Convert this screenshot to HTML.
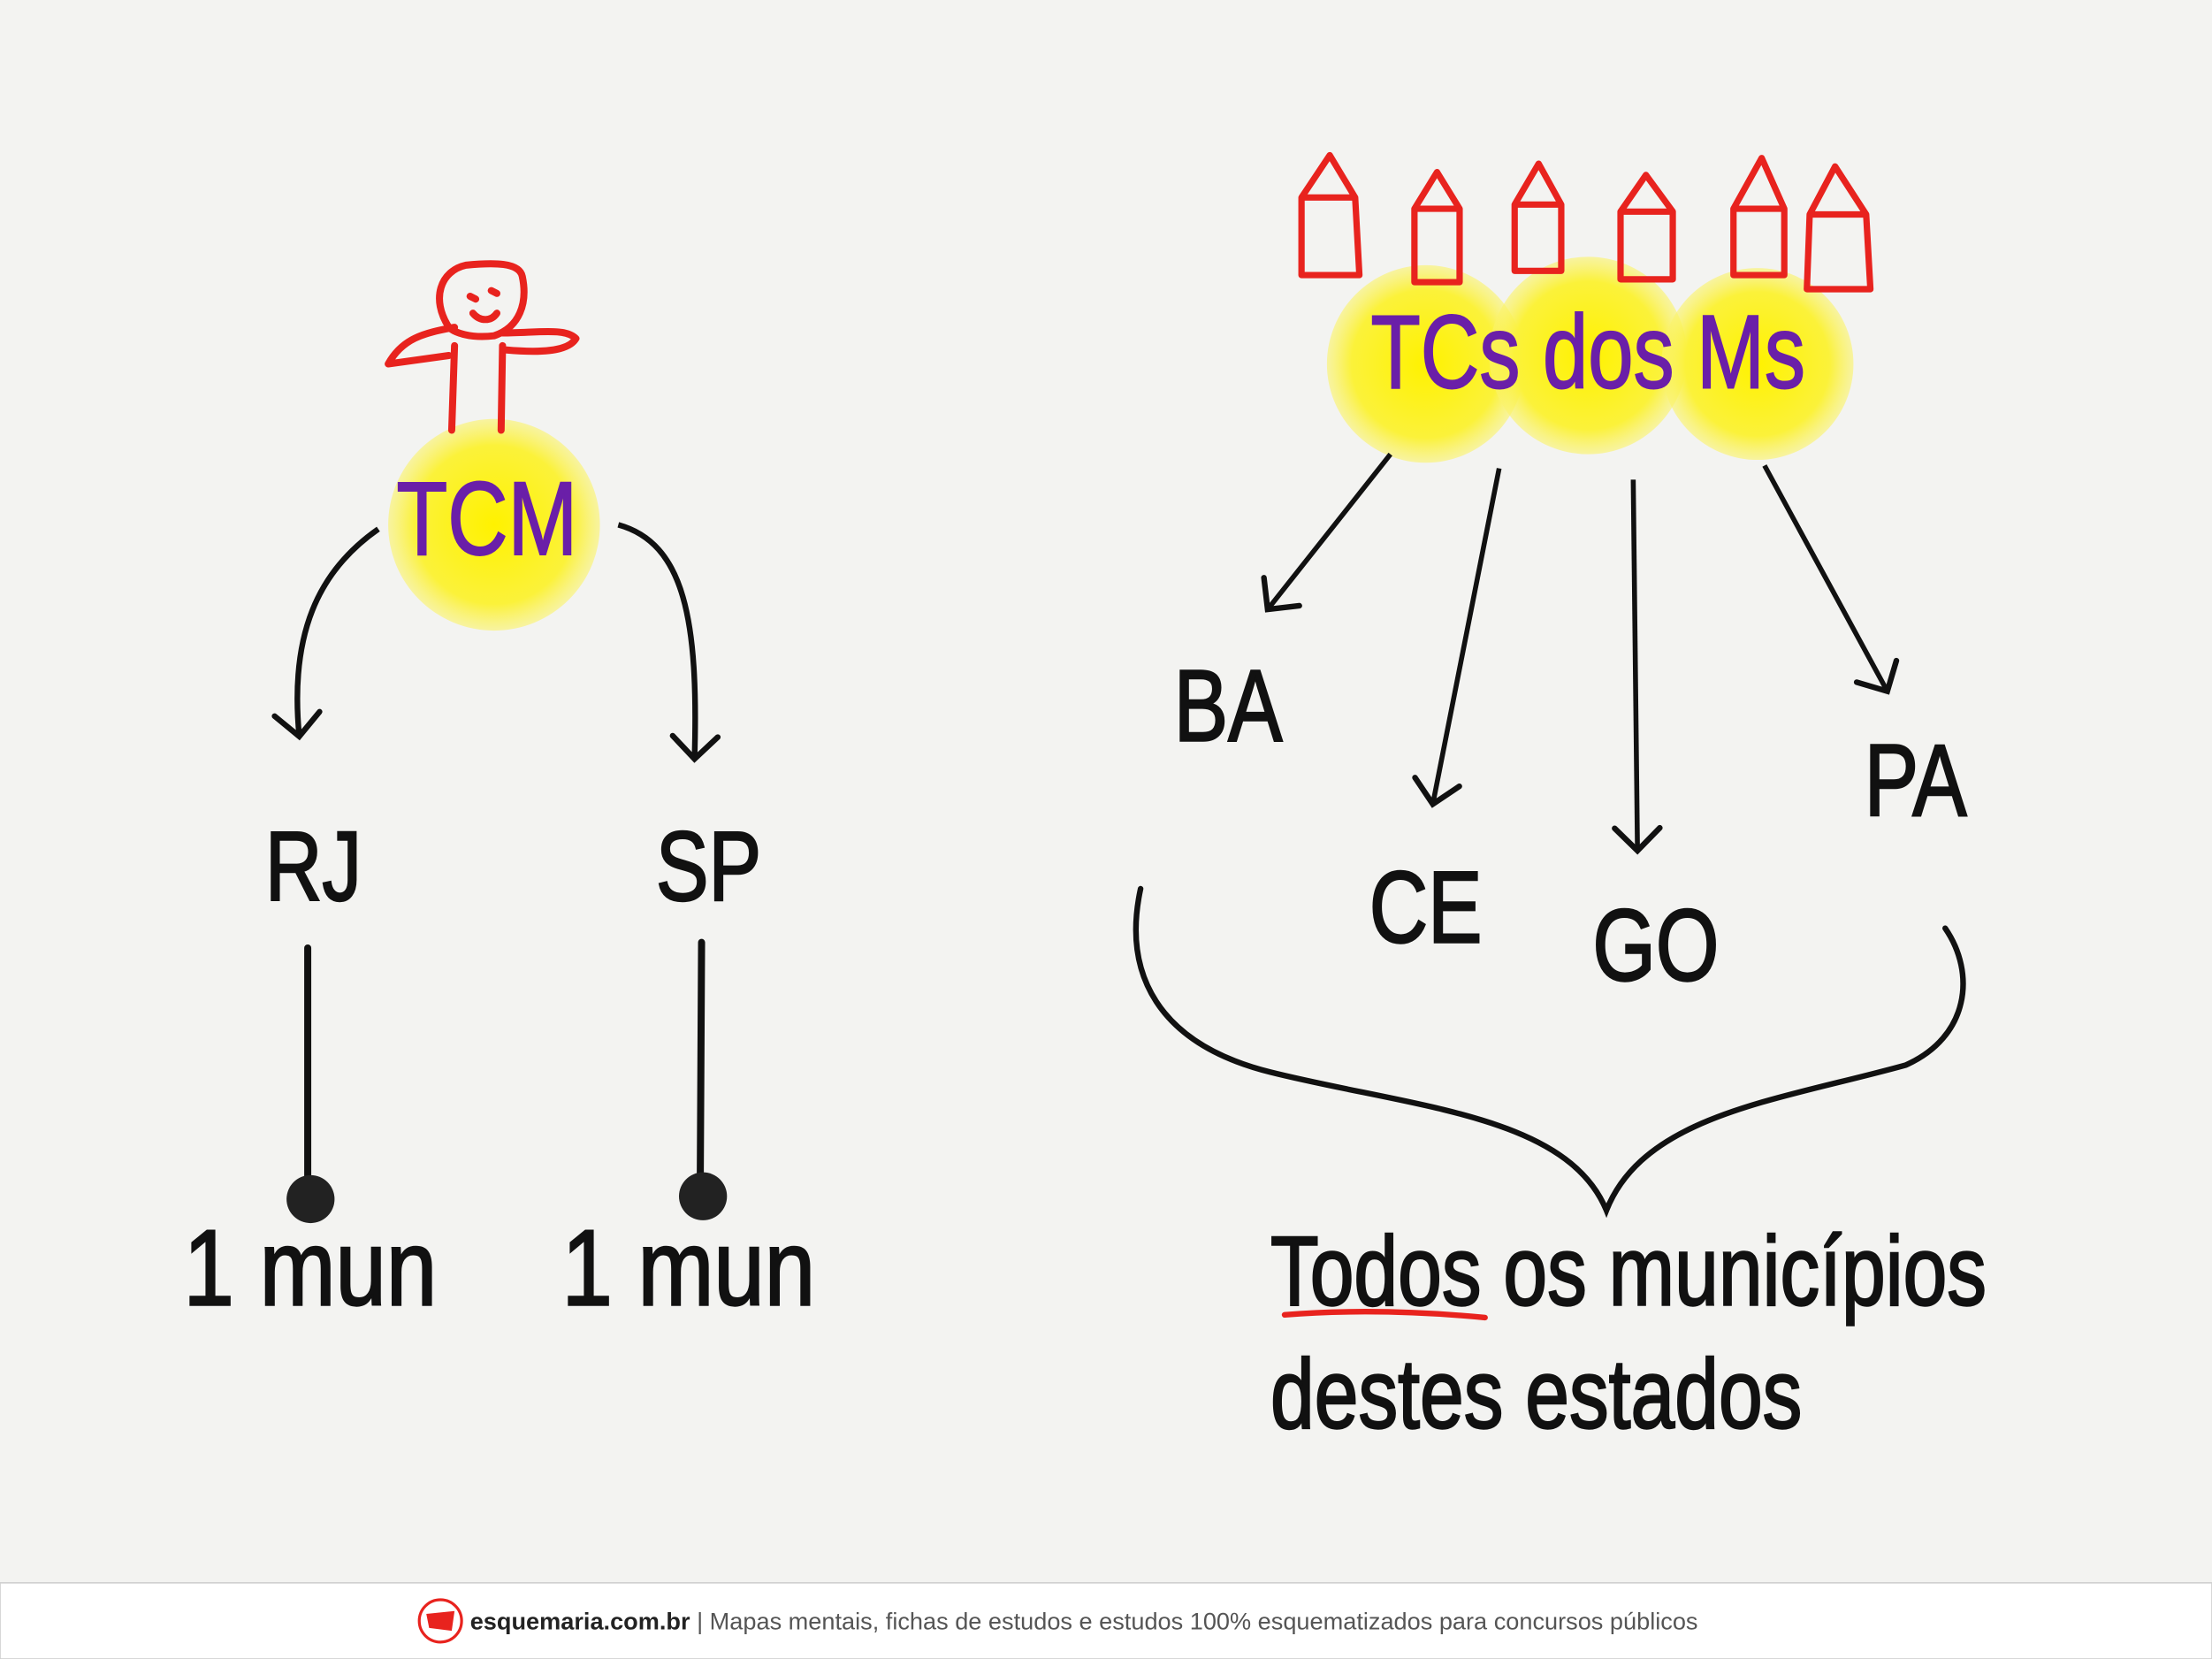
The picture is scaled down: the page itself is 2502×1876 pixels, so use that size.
<!DOCTYPE html>
<html><head><meta charset="utf-8"><style>
html,body{margin:0;padding:0;background:#f3f3f1;}
svg{display:block;}
text{font-family:"Liberation Sans",sans-serif;}
</style></head><body>
<svg width="2502" height="1876" viewBox="0 0 1567 1176" preserveAspectRatio="none" xmlns="http://www.w3.org/2000/svg">
<defs>
<radialGradient id="y" cx="50%" cy="50%" r="50%">
<stop offset="0" stop-color="#fff200"/><stop offset="0.75" stop-color="#fbf23a"/><stop offset="1" stop-color="#fbf36a" stop-opacity="0.6"/>
</radialGradient>
<marker id="b" markerWidth="40" markerHeight="40" refX="20" refY="20" orient="auto" markerUnits="userSpaceOnUse" viewBox="0 0 40 40">
<path d="M4,4 L20,20 L4,36" fill="none" stroke="#111" stroke-width="4" stroke-linecap="round"/>
</marker>
</defs>
<rect width="1567" height="1176" fill="#f3f3f1"/>
<!-- TCM -->
<circle cx="350" cy="372" r="75" fill="url(#y)"/>
<text x="345" y="393" font-size="74" fill="#6a1fa8" stroke="#6a1fa8" stroke-width="1.2" text-anchor="middle" transform="translate(345 0) scale(0.8 1) translate(-345 0)">TCM</text>
<g fill="none" stroke="#e8231e" stroke-width="5" stroke-linecap="round" stroke-linejoin="round">
<path d="M320,305 L322,245 M355,305 L356,245"/>
<path d="M322,232 C300,236 285,240 275,258 L318,252"/>
<path d="M356,236 C380,236 400,232 408,240 C402,250 380,250 358,248"/>
<path d="M318,232 C305,212 312,192 330,188 C350,186 368,186 370,196 C374,215 368,232 350,238 C334,240 322,236 318,232 Z"/>
<path d="M333,210 l4,2 M348,206 l4,2 M335,222 C340,228 348,228 352,222"/>
</g>
<path d="M268,375 C225,405 205,450 212,522" fill="none" stroke="#111" stroke-width="4" marker-end="url(#b)"/>
<path d="M438,372 C485,385 495,440 492,538" fill="none" stroke="#111" stroke-width="4" marker-end="url(#b)"/>
<g font-size="70" fill="#111" stroke="#111" stroke-width="1.5" text-anchor="middle">
<text x="222" y="638" transform="translate(222 0) scale(0.8 1) translate(-222 0)">RJ</text>
<text x="502" y="638" transform="translate(502 0) scale(0.8 1) translate(-502 0)">SP</text>
</g>
<path d="M218,672 L218,850 M497,668 L496,848" stroke="#111" stroke-width="5" stroke-linecap="round"/>
<circle cx="220" cy="850" r="17" fill="#222"/>
<circle cx="498" cy="848" r="17" fill="#222"/>
<g font-size="76" fill="#111" stroke="#111" stroke-width="1.5">
<text x="130" y="925" transform="translate(130 0) scale(0.85 1) translate(-130 0)">1 mun</text>
<text x="398" y="925" transform="translate(398 0) scale(0.85 1) translate(-398 0)">1 mun</text>
</g>
<!-- TCs dos Ms -->
<circle cx="1010" cy="258" r="70" fill="url(#y)"/>
<circle cx="1125" cy="252" r="70" fill="url(#y)"/>
<circle cx="1245" cy="258" r="68" fill="url(#y)"/>
<text x="1125" y="275" font-size="74" fill="#6a1fa8" stroke="#6a1fa8" stroke-width="1.2" text-anchor="middle" transform="translate(1125 0) scale(0.78 1) translate(-1125 0)">TCs dos Ms</text>
<g fill="none" stroke="#e8231e" stroke-width="4.5" stroke-linejoin="round">
<path d="M922,195 L922,140 L942,110 L960,140 L963,195 Z M922,140 L960,140"/>
<path d="M1002,200 L1002,148 L1018,122 L1034,148 L1034,200 Z M1002,148 L1034,148"/>
<path d="M1073,192 L1073,145 L1090,116 L1106,145 L1106,192 Z M1073,145 L1106,145"/>
<path d="M1148,198 L1148,150 L1166,124 L1185,150 L1185,198 Z M1148,150 L1185,150"/>
<path d="M1228,195 L1228,148 L1248,112 L1264,148 L1264,195 Z M1228,148 L1264,148"/>
<path d="M1280,205 L1282,152 L1300,118 L1322,152 L1325,205 Z M1282,152 L1322,152"/>
</g>
<g fill="none" stroke="#111" stroke-width="3.5">
<path d="M985,322 L898,432" marker-end="url(#b)"/>
<path d="M1062,332 L1015,570" marker-end="url(#b)"/>
<path d="M1157,340 L1160,603" marker-end="url(#b)"/>
<path d="M1250,330 L1337,490" marker-end="url(#b)"/>
</g>
<g font-size="72" fill="#111" stroke="#111" stroke-width="1.5" text-anchor="middle">
<text x="870" y="525" transform="translate(870 0) scale(0.8 1) translate(-870 0)">BA</text>
<text x="1010" y="668" transform="translate(1010 0) scale(0.8 1) translate(-1010 0)">CE</text>
<text x="1173" y="695" transform="translate(1173 0) scale(0.8 1) translate(-1173 0)">GO</text>
<text x="1357" y="578" transform="translate(1357 0) scale(0.8 1) translate(-1357 0)">PA</text>
</g>
<path d="M808,630 C795,690 820,740 900,760 C1000,785 1110,790 1138,858 C1165,790 1260,780 1350,755 C1395,735 1400,690 1378,658" fill="none" stroke="#111" stroke-width="4" stroke-linecap="round"/>
<g font-size="70" fill="#111" stroke="#111" stroke-width="1.5">
<text x="900" y="925" transform="translate(900 0) scale(0.8 1) translate(-900 0)">Todos os municípios</text>
<text x="900" y="1012" transform="translate(900 0) scale(0.8 1) translate(-900 0)">destes estados</text>
</g>
<path d="M910,932 C960,928 1010,930 1052,934" stroke="#e8231e" stroke-width="4" fill="none" stroke-linecap="round"/>
<!-- footer -->
<rect x="0" y="1122" width="1567" height="54" fill="#ffffff" stroke="#cfcfcf" stroke-width="1"/>
<circle cx="312" cy="1149" r="15" fill="#fff" stroke="#e8231e" stroke-width="2"/>
<path d="M302,1144 L322,1142 L320,1156 L304,1154 Z" fill="#e8231e"/>
<text x="333" y="1155" font-size="17" fill="#222"><tspan font-weight="bold">esquemaria.com.br</tspan><tspan fill="#555"> | Mapas mentais, fichas de estudos e estudos 100% esquematizados para concursos públicos</tspan></text>
</svg>
</body></html>
